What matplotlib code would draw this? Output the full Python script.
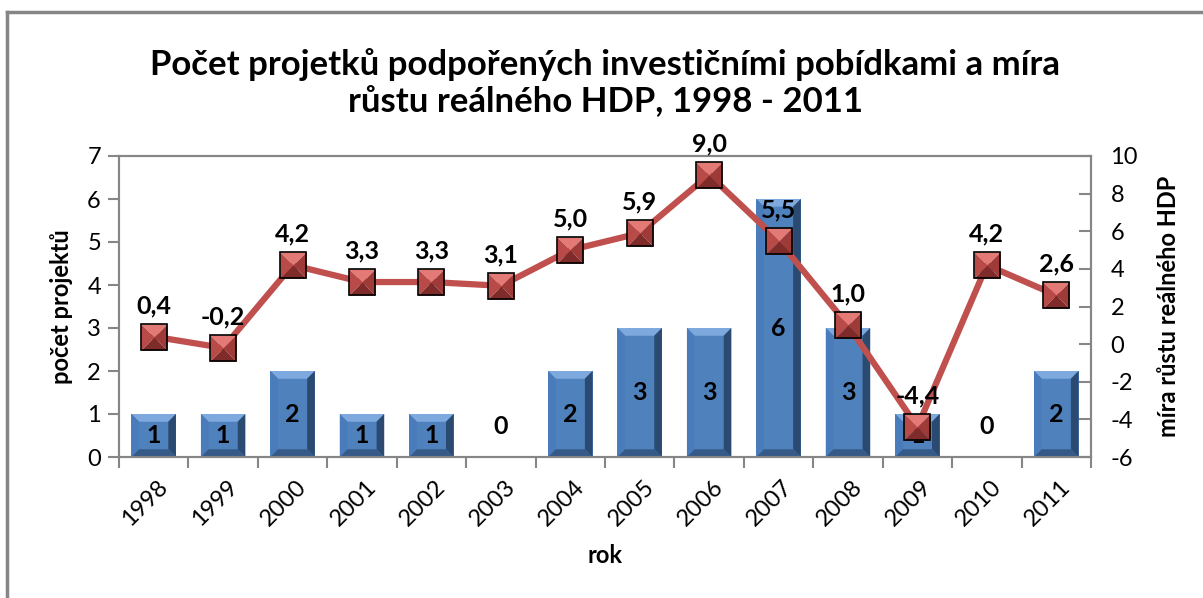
import matplotlib
matplotlib.use("Agg")
import matplotlib.pyplot as plt
from matplotlib.path import Path
from matplotlib.patches import Polygon
from matplotlib.lines import Line2D

years = ["1998", "1999", "2000", "2001", "2002", "2003", "2004",
         "2005", "2006", "2007", "2008", "2009", "2010", "2011"]
projects = [1, 1, 2, 1, 1, 0, 2, 3, 3, 6, 3, 1, 0, 2]
gdp_growth = [0.4, -0.2, 4.2, 3.3, 3.3, 3.1, 5.0, 5.9, 9.0, 5.5, 1.0, -4.4, 4.2, 2.6]

title = "Počet projetků podpořených investičními pobídkami a míra\nrůstu reálného HDP, 1998 - 2011"
xlabel = "rok"
ylabel_left = "počet projektů"
ylabel_right = "míra růstu reálného HDP"

FONT = ["Lato", "DejaVu Sans"]
plt.rcParams["font.family"] = FONT

fig = plt.figure(figsize=(12.03, 5.98), dpi=100)
ax = fig.add_axes([119 / 1203, 1 - 457 / 598, (1091 - 119) / 1203, (457 - 156) / 598])
ax2 = ax.twinx()

grey = "#868686"
x = list(range(len(years)))

# bars
bw = 0.64
bars = ax.bar(x, projects, width=bw, color="#4F81BD", zorder=2)
bx = 0.11   # bevel in data units (x)
by = 0.18   # bevel in data units (y)
for b in bars:
    h = b.get_height()
    if h <= 0:
        continue
    x0, x1 = b.get_x(), b.get_x() + b.get_width()
    y0, y1 = 0, h
    polys = [
        ([(x0, y1), (x1, y1), (x1 - bx, y1 - by), (x0 + bx, y1 - by)], "#7EA9DE"),
        ([(x0, y0), (x0, y1), (x0 + bx, y1 - by), (x0 + bx, y0 + by)], "#4A7CBB"),
        ([(x1, y0), (x1, y1), (x1 - bx, y1 - by), (x1 - bx, y0 + by)], "#2B4A72"),
        ([(x0, y0), (x1, y0), (x1 - bx, y0 + by), (x0 + bx, y0 + by)], "#355A88"),
    ]
    for pts, c in polys:
        ax.add_patch(Polygon(pts, closed=True, facecolor=c, edgecolor="none", zorder=3))

for xi, v in zip(x, projects):
    yy = v / 2 if v > 0 else 0.7
    ax.text(xi, yy, str(v), ha="center", va="center", fontsize=18,
            fontweight="bold", color="black", zorder=4)

ax.set_ylim(0, 7)
ax.set_xlim(-0.5, len(years) - 0.5)
ax.set_yticks(range(0, 8))
ax.set_xticks([i - 0.5 for i in range(len(years) + 1)], minor=False)
ax.set_xticklabels([""] * (len(years) + 1))
ax.set_xticks([i + 0.05 for i in x], minor=True)
ax.set_xticklabels(years, minor=True, rotation=45, ha="right", va="top",
                   rotation_mode="anchor", fontsize=17)
ax.tick_params(axis="x", which="minor", length=0, pad=14)
ax.tick_params(axis="x", which="major", length=8, color=grey, width=1.5)
ax.tick_params(axis="y", length=8, color=grey, width=1.5, labelsize=17, pad=5)

# line on secondary axis
ax2.plot(x, gdp_growth, color="#C0504D", lw=4.5, zorder=5)
tri_top = Path([(-1, 1), (1, 1), (0, 0), (-1, 1)], [1, 2, 2, 79])
tri_bot = Path([(-1, -1), (1, -1), (0, 0), (-1, -1)], [1, 2, 2, 79])
tri_l = Path([(-1, -1), (-1, 1), (0, 0), (-1, -1)], [1, 2, 2, 79])
tri_r = Path([(1, -1), (1, 1), (0, 0), (1, -1)], [1, 2, 2, 79])
ms = 19
for m, c in [(tri_top, "#E47A76"), (tri_l, "#B84A47"), (tri_r, "#9E3A38"), (tri_bot, "#7E2B29")]:
    ax2.plot(x, gdp_growth, ls="none", marker=m, markersize=ms, markerfacecolor=c,
             markeredgecolor="none", zorder=6)
ax2.plot(x, gdp_growth, ls="none", marker="s", markersize=ms, markerfacecolor="none",
         markeredgecolor="black", markeredgewidth=1.2, zorder=7)

for xi, v in zip(x, gdp_growth):
    ax2.annotate(f"{v:.1f}".replace(".", ","), (xi, v), xytext=(0, 14),
                 textcoords="offset points", ha="center", va="bottom",
                 fontsize=18, fontweight="bold", zorder=8)

ax2.set_ylim(-6, 10)
ax2.set_yticks(range(-6, 11, 2))
ax2.set_yticklabels([str(t) for t in range(-6, 11, 2)])
ax2.tick_params(axis="y", direction="in", length=9, color=grey, width=1.5,
                labelsize=17, pad=14)

for a in (ax, ax2):
    for s in a.spines.values():
        s.set_color(grey)
        s.set_linewidth(1.5)

ax.set_xlabel(xlabel, fontsize=17, fontweight="bold", labelpad=10)
ax.set_ylabel(ylabel_left, fontsize=17, fontweight="bold", labelpad=10)
ax2.set_ylabel(ylabel_right, fontsize=17, fontweight="bold", labelpad=14)

fig.text(605 / 1203, 1 - 83 / 598, title, ha="center", va="center",
         fontsize=25, fontweight="bold", linespacing=1.2)

# outer chart border (top and left visible)
fig.add_artist(Line2D([7 / 1203, 7 / 1203], [0, 1 - 12 / 598], color=grey, lw=2.5,
                      transform=fig.transFigure))
fig.add_artist(Line2D([7 / 1203, 1], [1 - 12 / 598, 1 - 12 / 598], color=grey, lw=2.5,
                      transform=fig.transFigure))

fig.savefig("out.png", dpi=100)
